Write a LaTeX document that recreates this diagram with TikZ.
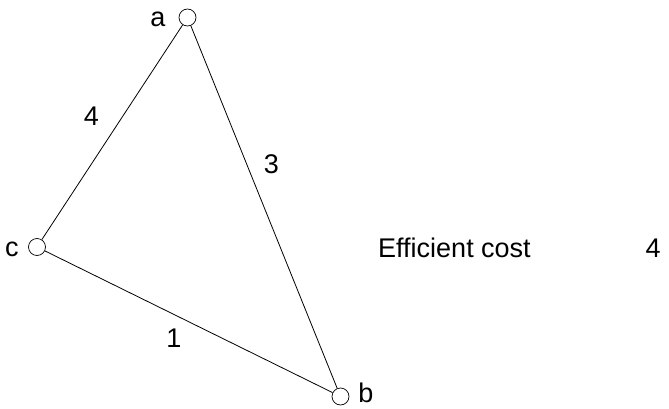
\documentclass[tikz,border=0pt]{standalone}
\usepackage{fontspec}
\setmainfont{Liberation Sans}
\begin{document}
\begin{tikzpicture}[x=1pt,y=1pt,
  vert/.style={circle,draw=black,line width=0.7pt,minimum size=17pt,inner sep=0pt},
  edge/.style={draw=black,line width=0.8pt},
  txt/.style={inner sep=0pt,font=\fontsize{27}{32}\selectfont}]
\useasboundingbox (0,0) rectangle (669,408);
\node[vert] (a) at (187.5,390.5) {};
\node[vert] (c) at (37,161) {};
\node[vert] (b) at (340.5,11.5) {};
\draw[edge] (a) -- (c);
\draw[edge] (a) -- (b);
\draw[edge] (c) -- (b);
\node[txt,anchor=base] (la) at (158,381) {a};
\node[txt,anchor=base] (lc) at (12,152) {c};
\node[txt,anchor=base] (lb) at (366,6) {b};
\node[txt,anchor=base] (e4) at (91.5,283) {4};
\node[txt,anchor=base] (e3) at (271.5,235) {3};
\node[txt,anchor=base] (e1) at (174,61) {1};
\node[txt,anchor=base west] (ec) at (378,151) {Efficient cost};
\node[txt,anchor=base] (ev) at (653,151) {4};
\end{tikzpicture}
\end{document}
